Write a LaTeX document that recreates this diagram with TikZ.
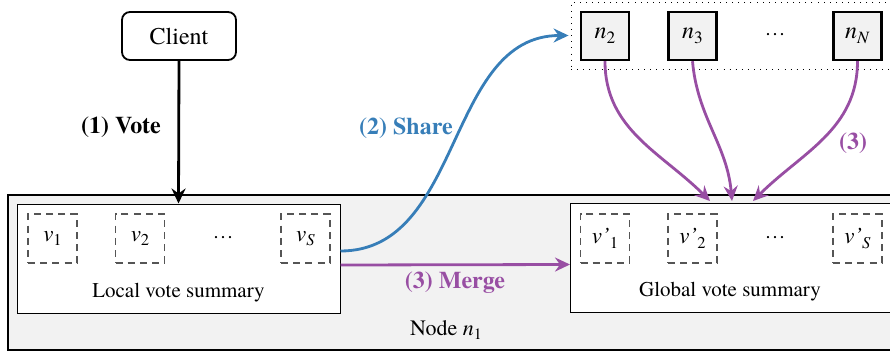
\documentclass[tikz,border=0pt]{standalone}
\usepackage{fontspec}
\setmainfont{texgyretermes}[Extension=.otf,UprightFont=*-regular,BoldFont=*-bold,ItalicFont=*-italic,BoldItalicFont=*-bolditalic]
\usetikzlibrary{arrows.meta}
\definecolor{cblue}{HTML}{377EB8}
\definecolor{cpurple}{HTML}{984EA3}
\definecolor{cfill}{HTML}{F2F2F2}
\definecolor{cdash}{HTML}{555555}
\newcommand\lsub[1]{\raisebox{-0.45ex}{\scalebox{0.72}{#1}}}
\tikzset{
  arr/.style={line width=1.4pt,-{Stealth[length=7.5pt,width=7pt,inset=2.5pt]}},
  outerbox/.style={draw,line width=1.2pt,fill=cfill,minimum width=443pt,minimum height=77.5pt,inner sep=0pt},
  sumbox/.style={draw,line width=0.5pt,fill=white,minimum width=161.5pt,minimum height=54.5pt,inner sep=0pt},
  vbox/.style={draw=cdash,dashed,dash pattern=on 3.5pt off 2.6pt,line width=0.9pt,minimum width=24.5pt,minimum height=24.5pt,inner sep=0pt,font=\fontsize{11.5}{13}\selectfont},
  nbox/.style={draw,line width=1.2pt,fill=cfill,minimum width=24pt,minimum height=24pt,inner sep=0pt,font=\fontsize{12}{14}\selectfont},
  dotbox/.style={draw,dash pattern=on 0.45pt off 2.6pt,line width=0.45pt,minimum width=161pt,minimum height=33.5pt,inner sep=0pt},
  lbl/.style={font=\fontsize{12}{14}\selectfont\bfseries},
  txt/.style={font=\fontsize{10.5}{12}\selectfont},
}
\begin{document}
\begin{tikzpicture}[x=0.5pt,y=-0.5pt]
\useasboundingbox (0,0) rectangle (890,354);
\clip (0,0) rectangle (890,354);
% outer node box
\node[outerbox] (outer) at (451,272.5) {};
\node[font=\fontsize{11}{13}\selectfont] (nodelbl) at (446,330) {Node \textit{n}\lsub{1}};
% client
\node[draw,line width=0.9pt,rounded corners=4pt,minimum width=57pt,minimum height=24pt,font=\fontsize{12}{14}\selectfont] (client) at (179,36) {Client};
% local summary
\node[sumbox] (local) at (178.5,258.5) {};
\node[vbox] (v1) at (52.5,238.5) {\textit{v}\lsub{1}};
\node[vbox] (v2) at (140,238.5) {\textit{v}\lsub{2}};
\node[txt] (ldots) at (223,238) {…};
\node[vbox] (vS) at (305.5,238.5) {\textit{v}\lsub{\textit{S}}};
\node[txt] (ltxt) at (178.5,293) {Local vote summary};
% global summary
\node[sumbox] (global) at (732,258) {};
\node[vbox] (g1) at (605,238.5) {\textit{v’}\lsub{1}};
\node[vbox] (g2) at (692.5,238.5) {\textit{v’}\lsub{2}};
\node[txt] (gdots) at (775,238) {…};
\node[vbox] (gS) at (857.5,238.5) {\textit{v’}\lsub{\textit{S}}};
\node[txt] (gtxt) at (730,292) {Global vote summary};
% other nodes
\node[dotbox] (peers) at (732,35.5) {};
\node[nbox] (n2) at (605,36) {\textit{n}\lsub{2}};
\node[nbox] (n3) at (692.5,36) {\textit{n}\lsub{3}};
\node[txt] (ndots) at (775,35) {…};
\node[nbox] (nN) at (857.5,36) {\textit{n}\lsub{\textit{N}}};
% arrows
\draw[arr] (client.south) -- (local.north);
\node[lbl] (vote) at (121,127) {(1) Vote};
\draw[arr,cblue] ([yshift=3.75pt]local.east) to[out=0,in=180] ([xshift=-1pt]peers.west);
\node[lbl,text=cblue] (share) at (406,128) {(2) Share};
\draw[arr,cpurple] ([yshift=-3.25pt]local.east) -- ([yshift=-3.25pt]global.west);
\node[lbl,text=cpurple] (merge) at (455,283) {(3) Merge};
\draw[arr,cpurple] (n2.south) to[out=-90,in=135] ([xshift=-11pt,yshift=1pt]global.north);
\draw[arr,cpurple] (n3.south) to[out=-85,in=95] ([xshift=0pt,yshift=1pt]global.north);
\draw[arr,cpurple] (nN.south) to[out=-90,in=45] ([xshift=10.5pt,yshift=1pt]global.north);
\node[lbl,text=cpurple] (three) at (853,143) {(3)};
\end{tikzpicture}
\end{document}
